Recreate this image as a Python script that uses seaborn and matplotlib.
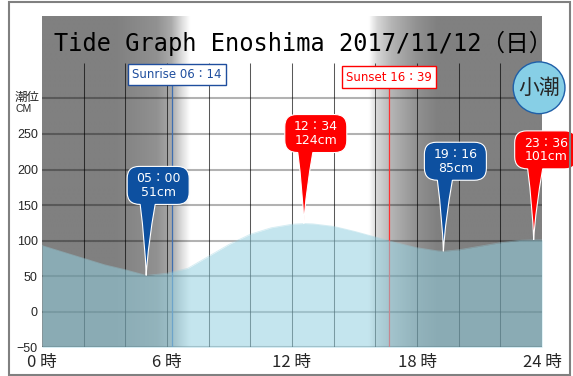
import matplotlib
matplotlib.use("Agg")
import matplotlib.pyplot as plt
import matplotlib.transforms as mtransforms
from matplotlib.path import Path
from matplotlib.patches import PathPatch, Rectangle
import numpy as np
import pandas as pd
import seaborn as sns

# ---- data ----
TIDE_HOURS = [0, 1, 2, 3, 4, 5, 6, 7, 8, 9, 10, 11, 12, 12.57, 13, 14, 15, 16,
              17, 18, 19, 19.27, 20, 21, 22, 23, 23.6, 24]
TIDE_CM = [93, 84, 75, 66, 59, 51, 54, 61, 78, 95, 109, 118, 123, 124, 123.5,
           120, 113, 105, 97, 90, 85.5, 85, 87, 92, 97, 100.5, 101, 101]

EVENT_HOURS = [5.0, 12 + 34 / 60, 19 + 16 / 60, 23 + 36 / 60]
EVENT_CM = [51, 124, 85, 101]
EVENT_TIME_LABELS = ["05：00", "12：34", "19：16", "23：36"]
EVENT_KIND = ["low", "high", "low", "high"]

SUNRISE_H = 6 + 14 / 60
SUNSET_H = 16 + 39 / 60
SUNRISE_LABEL = "Sunrise 06：14"
SUNSET_LABEL = "Sunset 16：39"

YTICKS = [-50, 0, 50, 100, 150, 200, 250]
XTICKS = [0, 6, 12, 18, 24]
XTICK_LABELS = ["0 時", "6 時", "12 時", "18 時", "24 時"]
TITLE = "Tide Graph Enoshima 2017/11/12（日）"
TIDE_TYPE = "小潮"

# ---- style ----
BLUE = "#0d50a0"
RED = "#ff0000"
FILL = "#94d0e0"
JP = ["Noto Sans CJK JP", "DejaVu Sans"]
LATIN = ["DejaVu Sans", "Noto Sans CJK JP"]

sns.set_style("white")
plt.rcParams["font.family"] = LATIN

fig = plt.figure(figsize=(5.73, 3.76), dpi=100)
ax = fig.add_axes([42 / 573, 28.8 / 376, 500 / 573, 331.2 / 376])
ax.set_xlim(0, 24)
ax.set_ylim(-50, 416)

# night shading: gray at night, white during the day
gx = [0, 3.5, 5.5, 6.2, 6.7, 7.1, 15.7, 16.1, 16.8, 18.0, 19.0, 24]
gv = [128, 128, 145, 170, 220, 255, 255, 215, 180, 145, 128, 128]
xs = np.linspace(0, 24, 600)
shade = np.interp(xs, gx, gv) / 255.0
img = np.repeat(shade[None, :, None], 3, axis=2)
ax.imshow(img, extent=[0, 24, -50, 416], aspect="auto", zorder=0,
          interpolation="bilinear")

# grid
ax.hlines([-50, 0, 50, 100, 150, 200, 250, 300], 0, 24, colors="black",
          alpha=0.3, linewidth=1.5, zorder=1)
ax.vlines(np.arange(2, 24, 2), -50, 350, colors="black", alpha=0.65,
          linewidth=0.75, zorder=1)

# sunrise / sunset lines
ax.vlines(SUNRISE_H, -50, 320, colors="#3f6fb0", linewidth=0.9, zorder=1.5)
ax.vlines(SUNSET_H, -50, 320, colors="#ff3030", linewidth=0.9, zorder=1.5)

# tide curve
df = pd.DataFrame({"hour": TIDE_HOURS, "cm": TIDE_CM})
ax.fill_between(df["hour"], -50, df["cm"], color=FILL, alpha=0.55,
                linewidth=0, zorder=2)
sns.lineplot(data=df, x="hour", y="cm", color=FILL, alpha=0.4, linewidth=0.6,
             ax=ax, zorder=2)


def balloon_path():
    # pixel units, relative to the tip
    L, R, B, T, r = -19, 43, 71, 109, 12
    verts = [(0, 0),
             (2, 32), (9, B),
             (R - r, B),
             (R, B), (R, B + r),
             (R, T - r),
             (R, T), (R - r, T),
             (L + r, T),
             (L, T), (L, T - r),
             (L, B + r),
             (L, B), (-6, B),
             (-1, 32), (0, 0),
             (0, 0)]
    codes = [Path.MOVETO,
             Path.CURVE3, Path.CURVE3,
             Path.LINETO,
             Path.CURVE3, Path.CURVE3,
             Path.LINETO,
             Path.CURVE3, Path.CURVE3,
             Path.LINETO,
             Path.CURVE3, Path.CURVE3,
             Path.LINETO,
             Path.CURVE3, Path.CURVE3,
             Path.CURVE3, Path.CURVE3,
             Path.CLOSEPOLY]
    return Path(verts, codes)


px = mtransforms.Affine2D().scale(1 / 100.0) + fig.dpi_scale_trans
for h, cm, tl, kind in zip(EVENT_HOURS, EVENT_CM, EVENT_TIME_LABELS, EVENT_KIND):
    col = BLUE if kind == "low" else RED
    tr = px + mtransforms.ScaledTranslation(h, cm, ax.transData)
    ax.add_patch(PathPatch(balloon_path(), transform=tr, facecolor=col,
                           edgecolor="white", linewidth=0.8, zorder=5,
                           clip_on=False))
    ax.annotate(f"{tl}\n{cm}cm", xy=(h, cm), xytext=(12 * 0.72, 90 * 0.72),
                textcoords="offset points", ha="center", va="center",
                color="white", fontsize=9, linespacing=1.05, zorder=6,
                family=LATIN, annotation_clip=False)

# sunrise / sunset boxes
ax.text(SUNRISE_H + 0.25, 334, SUNRISE_LABEL, ha="center", va="center",
        fontsize=8.5, color="#1f4e9e", zorder=7, family=LATIN,
        bbox=dict(boxstyle="square,pad=0.35", fc="white", ec="#1f4e9e", lw=1))
ax.text(SUNSET_H, 330, SUNSET_LABEL, ha="center", va="center",
        fontsize=8.5, color="#ff0000", zorder=7, family=LATIN,
        bbox=dict(boxstyle="square,pad=0.35", fc="white", ec="#ff0000", lw=1))

# title
ax.text(12.56, 377, TITLE, ha="center", va="center", fontsize=17,
        color="black", zorder=7, family=["DejaVu Sans Mono", "Noto Sans CJK JP"])

# tide type bubble
ax.text(23.86, 315, TIDE_TYPE, ha="center", va="center", fontsize=15,
        family=JP, zorder=8, clip_on=False,
        bbox=dict(boxstyle="circle,pad=0.24", fc="#87cfe6", ec="#1f5fa8", lw=1))

# axes decoration
ax.set_xticks(XTICKS)
ax.set_xticklabels(XTICK_LABELS, fontsize=12, family=JP)
ax.set_yticks(YTICKS)
ax.set_yticklabels([str(v).replace("-", "\u2212") for v in YTICKS], fontsize=9,
                   family=["Liberation Sans", "DejaVu Sans"])
ax.tick_params(axis="both", length=0)
ax.tick_params(axis="x", pad=5)
ax.tick_params(axis="y", pad=3)
ax.set_xlabel("")
ax.set_ylabel("")
for s in ax.spines.values():
    s.set_visible(False)

fig.text(15 / 573, 1 - 97 / 376, "潮位", ha="left", va="center", fontsize=9,
         family=JP)
fig.text(15 / 573, 1 - 108.5 / 376, "CM", ha="left", va="center", fontsize=7.5,
         family=["Liberation Sans", "DejaVu Sans"])

# outer frame
fig.patches.append(Rectangle((8.5 / 573, 1.5 / 376), 561 / 573, 373 / 376,
                             transform=fig.transFigure, fill=False,
                             edgecolor="#808080", linewidth=1.5))

fig.savefig("out.png", dpi=100)
